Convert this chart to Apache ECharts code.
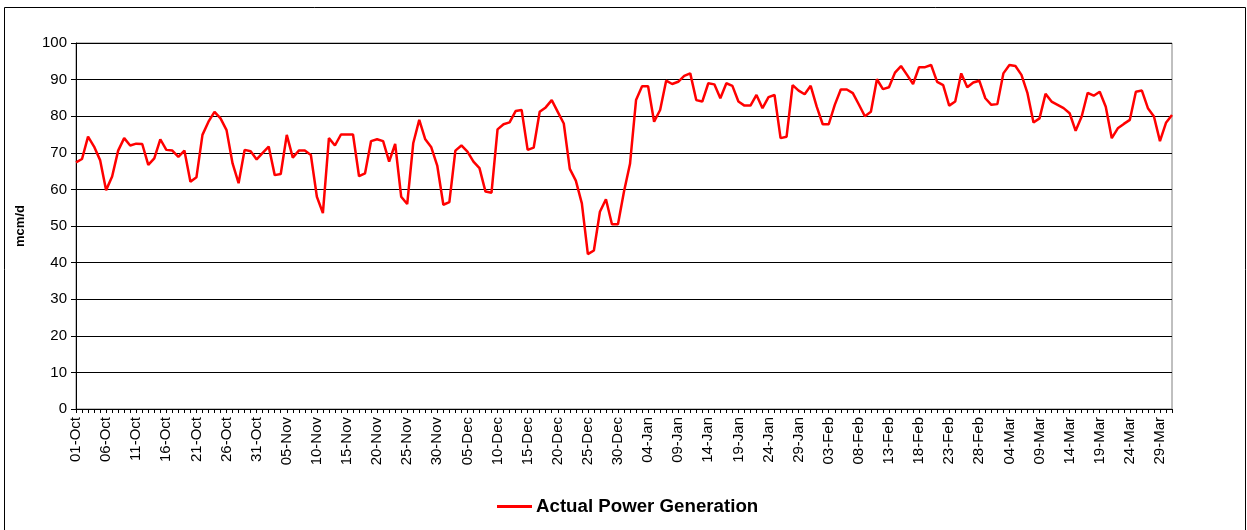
<!DOCTYPE html>
<html>
<head>
<meta charset="utf-8">
<title>Actual Power Generation</title>
<script src="https://cdn.jsdelivr.net/npm/echarts@6/dist/echarts.min.js"></script>
<style>
  html, body { margin: 0; padding: 0; background: #fff; }
  #chart { width: 1247px; height: 530px; }
</style>
</head>
<body>
<div id="chart"></div>
<script>
// Daily dates, 01-Oct to 31-Mar (leap-year February)
const monthNames = ['Oct', 'Nov', 'Dec', 'Jan', 'Feb', 'Mar'];
const monthDays = [31, 30, 31, 31, 29, 31];

// Actual power generation, mcm/d
const generation = [
  67.4, 68.3, 74.4, 71.7, 68.0, 59.8, 63.5, 70.6, 74.0, 72.0,
  72.5, 72.4, 66.7, 68.5, 73.7, 70.8, 70.6, 68.9, 70.6, 62.1,
  63.3, 74.9, 78.5, 81.2, 79.4, 76.2, 67.1, 61.7, 70.8, 70.4,
  68.2, 70.0, 71.7, 63.9, 64.2, 74.9, 68.7, 70.6, 70.6, 69.4,
  58.0, 53.5, 74.0, 72.0, 75.0, 75.0, 75.0, 63.6, 64.4, 73.2,
  73.7, 73.2, 67.6, 72.4, 58.0, 56.0, 72.6, 79.0, 73.7, 71.5,
  66.4, 55.8, 56.5, 70.6, 72.0, 70.3, 67.6, 65.8, 59.4, 59.1,
  76.4, 77.8, 78.3, 81.4, 81.7, 70.8, 71.4, 81.2, 82.4, 84.4,
  81.2, 78.0, 65.6, 62.4, 56.2, 42.3, 43.3, 53.9, 57.3, 50.5,
  50.5, 59.4, 67.0, 84.4, 88.2, 88.2, 78.5, 81.7, 89.7, 88.8,
  89.4, 91.0, 91.7, 84.4, 84.0, 89.0, 88.7, 84.9, 89.0, 88.3,
  84.0, 82.9, 82.9, 85.8, 82.2, 85.2, 85.8, 74.0, 74.4, 88.5,
  87.0, 86.0, 88.3, 82.6, 77.8, 77.8, 83.1, 87.3, 87.3, 86.3,
  83.2, 80.0, 81.2, 90.1, 87.4, 87.9, 91.9, 93.7, 91.3, 88.8,
  93.4, 93.4, 94.0, 89.4, 88.5, 82.9, 84.0, 91.7, 87.9, 89.2,
  89.7, 84.9, 83.1, 83.3, 91.7, 94.0, 93.7, 91.3, 86.3, 78.3,
  79.4, 86.1, 84.0, 83.1, 82.2, 80.8, 76.0, 79.9, 86.4, 85.6,
  86.7, 82.6, 74.0, 76.7, 77.9, 79.0, 86.7, 87.0, 82.2, 79.9,
  73.2, 78.2, 80.3
];

// Value axis ticks
const yMin = 0, yMax = 100, yStep = 10;

// Build "dd-Mon" category labels
const dates = [];
monthNames.forEach((m, k) => {
  for (let d = 1; d <= monthDays[k]; d++) {
    dates.push((d < 10 ? '0' : '') + d + '-' + m);
  }
});

const FONT = '"Liberation Sans", Arial, sans-serif';
const chart = echarts.init(document.getElementById('chart'), null, { renderer: 'canvas' });

chart.setOption({
  animation: false,
  backgroundColor: '#fff',
  graphic: [{
    type: 'rect',
    silent: true,
    shape: { x: 4.5, y: 7.5, width: 1241, height: 530 },
    style: { fill: 'none', stroke: '#000', lineWidth: 1 }
  }],
  grid: { left: 76, right: 75, top: 43, bottom: 121, containLabel: false,
          show: true, borderColor: '#808080', borderWidth: 1 },
  legend: {
    bottom: 9,
    left: 492,
    itemWidth: 35,
    itemHeight: 3,
    itemGap: 6,
    icon: 'rect',
    textStyle: { fontFamily: FONT, fontSize: 18.7, fontWeight: 'bold', color: '#000', padding: [0, 0, 0, -1] },
    data: [{ name: 'Actual Power Generation', icon: 'rect' }]
  },
  xAxis: {
    type: 'category',
    data: dates,
    boundaryGap: false,
    axisLine: { lineStyle: { color: '#000', width: 1 } },
    axisTick: { show: true, interval: 0, length: 4, lineStyle: { color: '#000' } },
    axisLabel: {
      interval: 4,
      rotate: 90,
      margin: 8,
      fontFamily: FONT,
      fontSize: 15,
      color: '#000'
    },
    splitLine: { show: false }
  },
  yAxis: {
    type: 'value',
    min: yMin,
    max: yMax,
    interval: yStep,
    name: 'mcm/d',
    nameLocation: 'middle',
    nameGap: 49,
    nameRotate: 90,
    nameTextStyle: { fontFamily: FONT, fontSize: 13, fontWeight: 'bold', color: '#000' },
    axisLine: { show: true, lineStyle: { color: '#000', width: 1 } },
    axisTick: { show: true, length: 5, lineStyle: { color: '#000' } },
    axisLabel: { fontFamily: FONT, fontSize: 15, color: '#000', margin: 9 },
    splitLine: { show: true, lineStyle: { color: '#000', width: 1 } }
  },
  series: [{
    name: 'Actual Power Generation',
    type: 'line',
    data: generation,
    symbol: 'none',
    smooth: false,
    itemStyle: { color: '#ff0000' },
    lineStyle: { color: '#ff0000', width: 2.5 }
  }]
});
</script>
</body>
</html>
